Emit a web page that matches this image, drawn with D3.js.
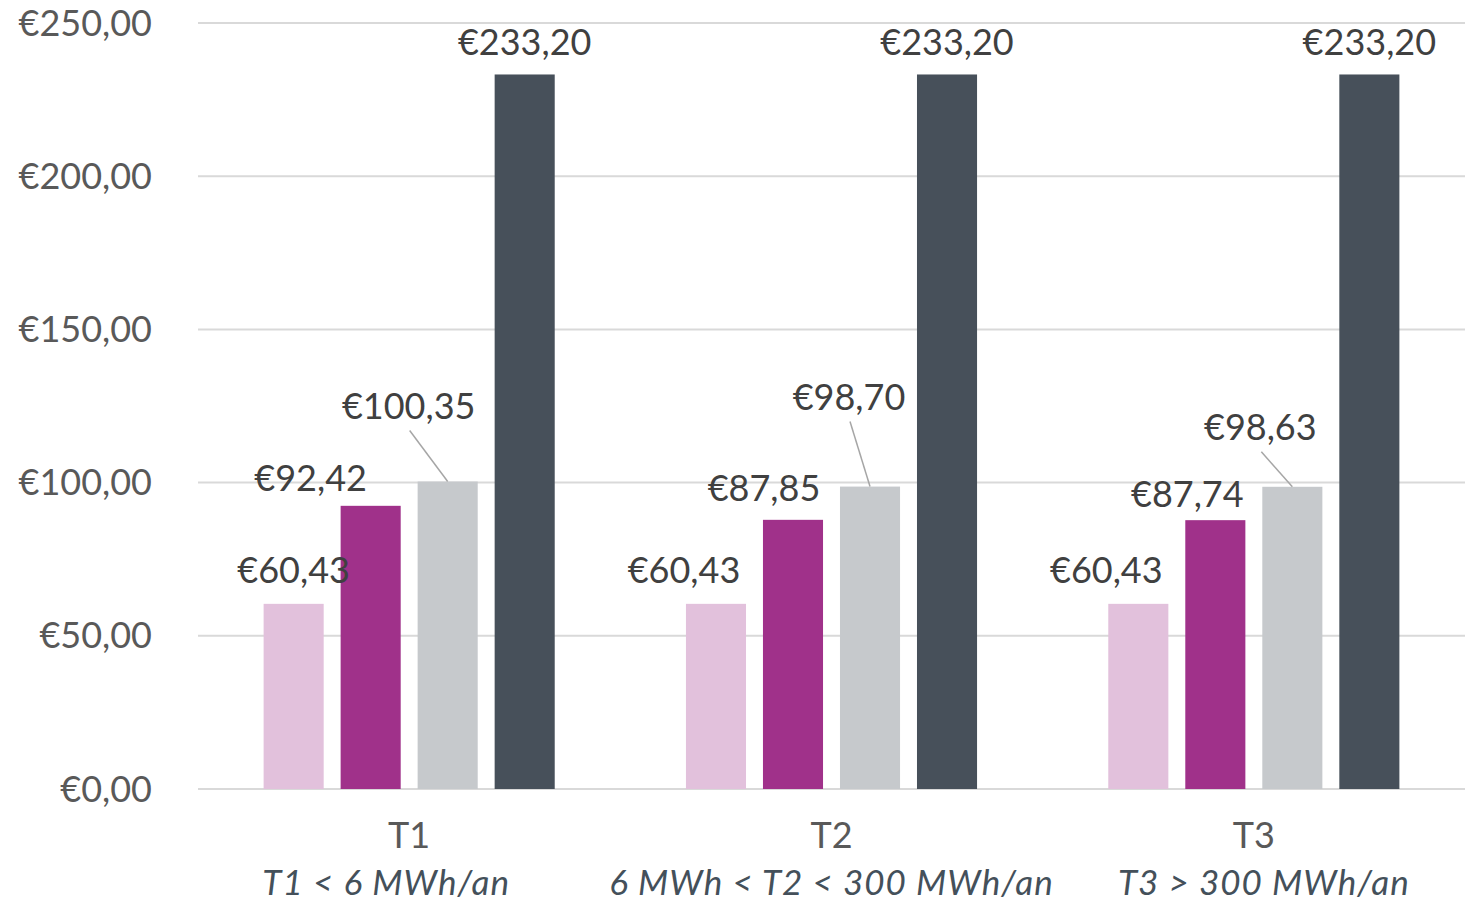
<!DOCTYPE html>
<html>
<head>
<meta charset="utf-8">
<script src="https://cdn.jsdelivr.net/npm/d3@7"></script>
<style>
  body { margin: 0; background: #fff; }
  text { font-family: Lato, "Open Sans", sans-serif; }
</style>
</head>
<body>
<script>
// data
var groups = ["T1", "T2", "T3"];
var groupNotes = ["T1 < 6 MWh/an", "6 MWh < T2 < 300 MWh/an", "T3 > 300 MWh/an"];
var series = ["s1", "s2", "s3", "s4"];
var values = [
  [60.43, 92.42, 100.35, 233.20],
  [60.43, 87.85, 98.70, 233.20],
  [60.43, 87.74, 98.63, 233.20]
];
var yTicks = [0, 50, 100, 150, 200, 250];
var colors = ["#e2c1dc", "#a0318a", "#c6c9cc", "#47505a"];

// label nudges (px) [dx, dy] so the labels don't collide, like the original
var labelNudge = [
  [[0, -2], [-60, 4], [-39, -44], [0, 0]],
  [[-32, -2], [-29, 0], [-21, -58], [0, 0]],
  [[-32, -2], [-28, 6], [-32, -28], [0, 0]]
];
var noteNudge = [-23, 0, 10];

var width = 1475, height = 902;
var plotLeft = 198, plotRight = 1465, plotTop = 23, plotBottom = 789;

var fmt = function(v){ return "€" + v.toFixed(2).replace(".", ","); };

var svg = d3.select("body").append("svg")
            .attr("width", width)
            .attr("height", height);

var y = d3.scaleLinear().domain([0, 250]).range([plotBottom, plotTop]);
var x0 = d3.scaleBand().domain(groups).range([plotLeft, plotRight]).padding(0);
var x1 = d3.scaleBand().domain(series).range([0, x0.bandwidth()])
           .paddingInner(0.22).paddingOuter(0.852);

// gridlines
svg.append("g").selectAll("line")
   .data(yTicks)
   .enter().append("line")
   .attr("x1", plotLeft).attr("x2", plotRight)
   .attr("y1", function(d){ return y(d); })
   .attr("y2", function(d){ return y(d); })
   .attr("stroke", "#d9d9d9")
   .attr("stroke-width", 2);

// y labels
svg.append("g").selectAll("text")
   .data(yTicks)
   .enter().append("text")
   .attr("x", 152)
   .attr("y", function(d){ return y(d); })
   .attr("dy", "0.35em")
   .attr("text-anchor", "end")
   .attr("fill", "#595959")
   .style("font-size", "36px")
   .text(function(d){ return fmt(d); });

// bars
var g = svg.append("g").selectAll("g")
           .data(values)
           .enter().append("g")
           .attr("transform", function(d, i){ return "translate(" + x0(groups[i]) + ",0)"; });

function cells(d, i){ return d.map(function(v, j){ return {v: v, s: series[j], j: j, i: i}; }); }

g.selectAll("rect")
 .data(cells)
 .enter().append("rect")
 .attr("x", function(d){ return x1(d.s); })
 .attr("y", function(d){ return y(d.v); })
 .attr("width", x1.bandwidth())
 .attr("height", function(d){ return plotBottom - y(d.v); })
 .attr("fill", function(d){ return colors[d.j]; });

// leader lines for the shifted grey labels
g.selectAll("line.leader")
 .data(function(d, i){ return cells(d, i).filter(function(c){ return c.j == 2; }); })
 .enter().append("line")
 .attr("class", "leader")
 .attr("x1", function(d){ return x1(d.s) + x1.bandwidth()/2 + labelNudge[d.i][d.j][0] + 1; })
 .attr("y1", function(d){ return y(d.v) - 19 + labelNudge[d.i][d.j][1] + 12; })
 .attr("x2", function(d){ return x1(d.s) + x1.bandwidth()/2; })
 .attr("y2", function(d){ return y(d.v); })
 .attr("stroke", "#a6a6a6")
 .attr("stroke-width", 1.5);

// value labels
g.selectAll("text")
 .data(cells)
 .enter().append("text")
 .attr("x", function(d){ return x1(d.s) + x1.bandwidth()/2 + labelNudge[d.i][d.j][0]; })
 .attr("y", function(d){ return y(d.v) - 19 + labelNudge[d.i][d.j][1]; })
 .attr("text-anchor", "middle")
 .attr("fill", "#404040")
 .style("font-size", "36px")
 .text(function(d){ return fmt(d.v); });

// category labels
var cat = svg.append("g").selectAll("g")
             .data(groups)
             .enter().append("g");

cat.append("text")
   .attr("x", function(d){ return x0(d) + x0.bandwidth()/2; })
   .attr("y", 848)
   .attr("text-anchor", "middle")
   .attr("fill", "#595959")
   .style("font-size", "36px")
   .text(function(d){ return d; });

cat.append("text")
   .attr("x", function(d, i){ return x0(d) + x0.bandwidth()/2 + noteNudge[i]; })
   .attr("y", 895)
   .attr("text-anchor", "middle")
   .attr("fill", "#44505a")
   .style("font-size", "35px")
   .style("font-style", "italic")
   .style("letter-spacing", "1px")
   .text(function(d, i){ return groupNotes[i]; });
</script>
</body>
</html>
